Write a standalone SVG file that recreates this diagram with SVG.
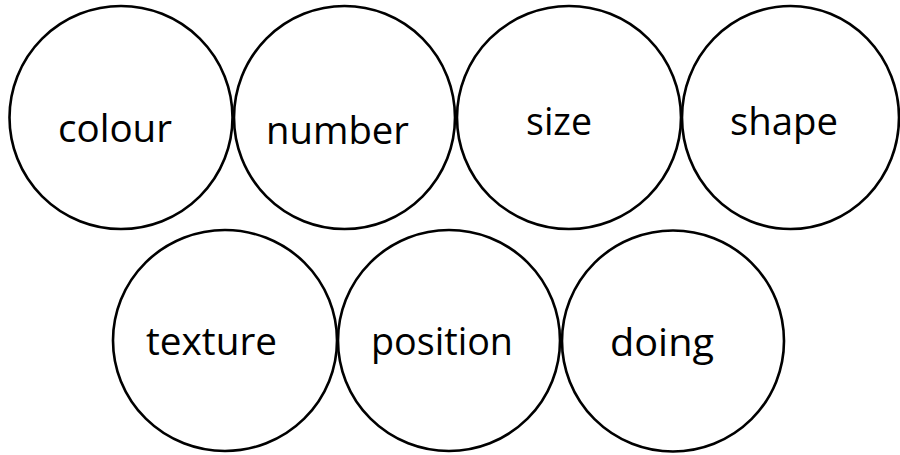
<svg xmlns="http://www.w3.org/2000/svg" width="900" height="455" viewBox="0 0 900 455">
<style>
.c{fill:#fff;stroke:#000;stroke-width:2.6}
.t{font-family:"Open Sans","Noto Sans","Liberation Sans",sans-serif;font-size:39px;fill:#000;text-anchor:middle}
</style>
<rect width="900" height="455" fill="#fff"/>
<g id="node-colour"><ellipse class="c" cx="121" cy="117.5" rx="111.5" ry="111.5"/><text class="t" x="115" y="142" textLength="114" lengthAdjust="spacingAndGlyphs">colour</text></g>
<g id="node-number"><ellipse class="c" cx="344.5" cy="117.5" rx="110.5" ry="111.5"/><text class="t" x="337.5" y="144" textLength="143" lengthAdjust="spacingAndGlyphs">number</text></g>
<g id="node-size"><ellipse class="c" cx="569" cy="117.5" rx="112" ry="111.5"/><text class="t" x="559" y="135" textLength="66" lengthAdjust="spacingAndGlyphs">size</text></g>
<g id="node-shape"><ellipse class="c" cx="790.5" cy="117.5" rx="108.5" ry="111.5"/><text class="t" x="784" y="135" textLength="108" lengthAdjust="spacingAndGlyphs">shape</text></g>
<g id="node-texture"><ellipse class="c" cx="225" cy="340.5" rx="112" ry="110.5"/><text class="t" x="211.5" y="355" textLength="131" lengthAdjust="spacingAndGlyphs">texture</text></g>
<g id="node-position"><ellipse class="c" cx="449" cy="340.5" rx="111" ry="110.5"/><text class="t" x="442" y="355" textLength="142" lengthAdjust="spacingAndGlyphs">position</text></g>
<g id="node-doing"><ellipse class="c" cx="673" cy="341" rx="111" ry="110.5"/><text class="t" x="662" y="356" textLength="104" lengthAdjust="spacingAndGlyphs">doing</text></g>
<g id="connectors"/>
</svg>
